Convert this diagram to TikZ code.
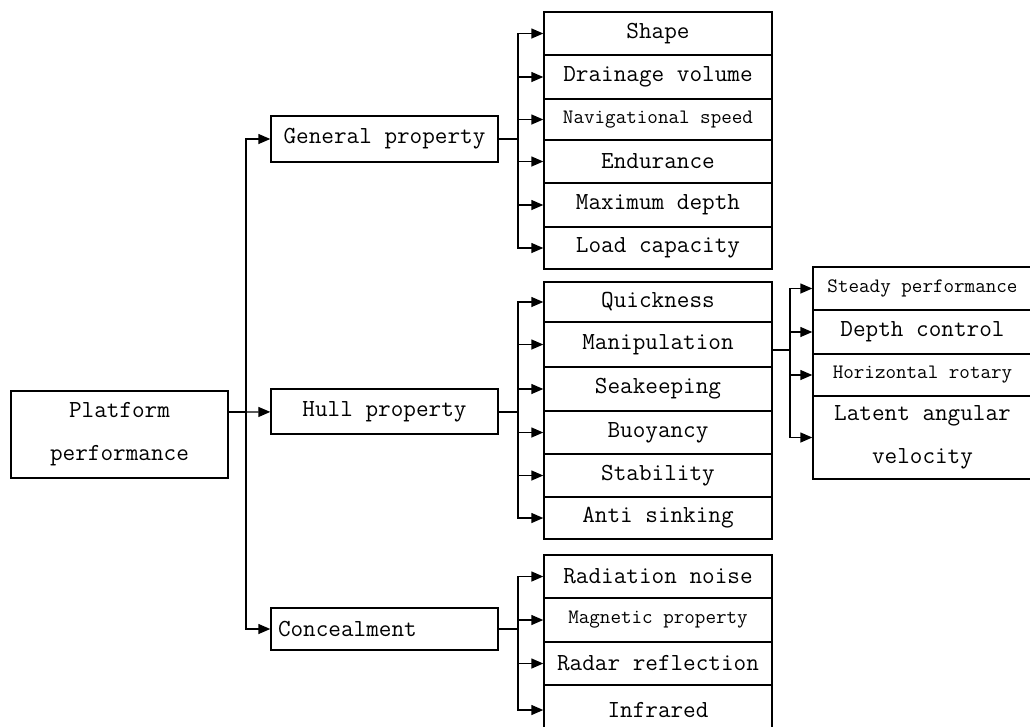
\documentclass[tikz,border=0pt]{standalone}
\usepackage{fontspec}
\usetikzlibrary{arrows.meta,calc}

\begin{document}
\begin{tikzpicture}[
  x=1pt, y=-1pt,
  box/.style={draw=black, line width=1.4pt, minimum width=228pt, minimum height=43pt,
              inner sep=0pt, align=center, font=\ttfamily\fontsize{24.5}{43}\selectfont},
  head/.style={box, minimum width=227pt},
  sub/.style={box, font=\ttfamily\fontsize{20.5}{36}\selectfont},
  arr/.style={-{Triangle[length=12pt,width=10pt]}, line width=1.4pt},
  conn/.style={line width=1.4pt}
]
\clip (0,0) rectangle (1030,726);

\node[box, minimum width=217pt, minimum height=87pt] (plat) at (119.5,434.5) {Platform\\performance};

\node[head, minimum height=46pt] (gen) at (384.5,139) {General property};
\node[head, minimum height=45pt] (hull) at (384.5,411.5) {Hull property};
\node[head, minimum height=42pt, text width=213pt, align=left] (conc) at (384.5,629) {Concealment};

\node[box, minimum height=43pt] (shape) at (658,33.5) {Shape};
\node[box, minimum height=44pt] (drain) at (658,77) {Drainage volume};
\node[sub, minimum height=41pt] (navig) at (658,119.5) {Navigational speed};
\node[box, minimum height=43pt] (endur) at (658,161.5) {Endurance};
\node[box, minimum height=44pt] (maxd) at (658,205) {Maximum depth};
\node[box, minimum height=42pt] (load) at (658,248) {Load capacity};

\node[box, minimum height=40pt] (quick) at (658,302) {Quickness};
\node[box, minimum height=45pt] (manip) at (658,344.5) {Manipulation};
\node[box, minimum height=44pt] (seak) at (658,389) {Seakeeping};
\node[box, minimum height=43pt] (buoy) at (658,432.5) {Buoyancy};
\node[box, minimum height=43pt] (stab) at (658,475.5) {Stability};
\node[box, minimum height=42pt] (anti) at (658,518) {Anti sinking};

\node[sub, minimum width=219pt, minimum height=43pt] (steady) at (922.5,288.5) {Steady performance};
\node[box, minimum width=219pt, minimum height=44pt] (depth) at (922.5,332) {Depth control};
\node[sub, minimum width=219pt, minimum height=42pt] (horiz) at (922.5,375) {Horizontal rotary};
\node[box, minimum width=219pt, minimum height=83pt] (latent) at (922.5,437.5) {Latent angular\\velocity};

\node[box, minimum height=43pt] (rad) at (658,576.5) {Radiation noise};
\node[sub, minimum height=44pt] (magn) at (658,620) {Magnetic property};
\node[box, minimum height=43pt] (radar) at (658,663.5) {Radar reflection};
\node[box, minimum height=50pt] (infra) at (658,710) {Infrared};

\coordinate (pbus) at (246,412);
\coordinate (gbus) at (518,139);
\coordinate (hbus) at (518,412);
\coordinate (cbus) at (518,629);
\coordinate (mbus) at (790,350);

\draw[conn] (plat.east |- pbus) -- (pbus);
\draw[arr] (pbus) -- (hull);
\draw[arr] (pbus) |- (gen);
\draw[arr] (pbus) |- (conc);

\draw[conn] (gen) -- (gbus);
\draw[arr] (gbus) |- (shape);
\draw[arr] (gbus) |- (drain);
\draw[arr] (gbus) |- (navig);
\draw[arr] (gbus) |- (endur);
\draw[arr] (gbus) |- (maxd);
\draw[arr] (gbus) |- (load);

\draw[conn] (hull.east |- hbus) -- (hbus);
\draw[arr] (hbus) |- (quick);
\draw[arr] (hbus) |- (manip);
\draw[arr] (hbus) |- (seak);
\draw[arr] (hbus) |- (buoy);
\draw[arr] (hbus) |- (stab);
\draw[arr] (hbus) |- (anti);

\draw[conn] (manip.east |- mbus) -- (mbus);
\draw[arr] (mbus) |- (steady);
\draw[arr] (mbus) |- (depth);
\draw[arr] (mbus) |- (horiz);
\draw[arr] (mbus) |- (latent);

\draw[conn] (conc) -- (cbus);
\draw[arr] (cbus) |- (rad);
\draw[arr] (cbus) |- (magn);
\draw[arr] (cbus) |- (radar);
\draw[arr] (cbus) |- (infra);
\end{tikzpicture}
\end{document}
